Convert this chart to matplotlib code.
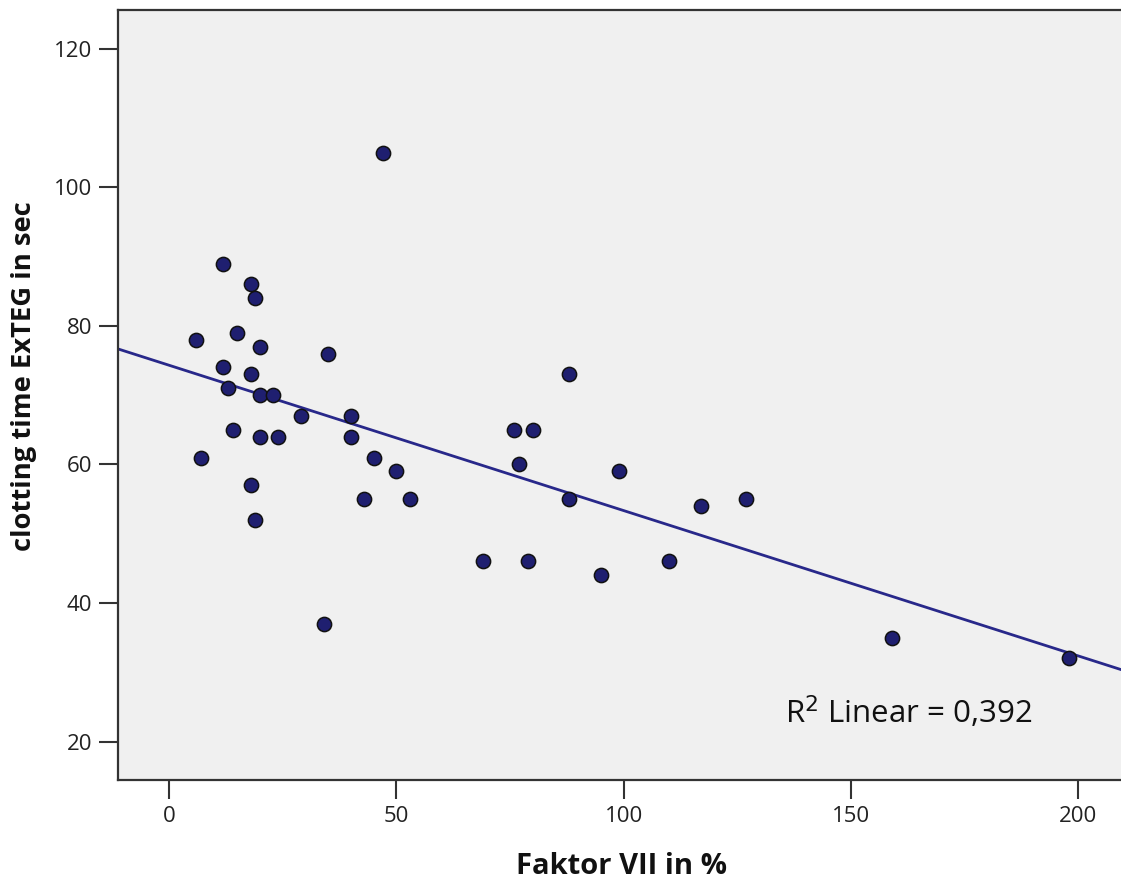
import numpy as np
import matplotlib
matplotlib.use("Agg")
import matplotlib.pyplot as plt

# Factor VII activity (%) and ExTEG clotting time (s)
faktor_vii = [6, 7, 12, 12, 13, 14, 15, 18, 19, 18, 18, 19, 20, 20, 20, 23, 24,
              29, 34, 35, 40, 40, 43, 45, 47, 50, 53, 69, 76, 77, 79, 80, 88, 88,
              95, 99, 110, 117, 127, 159, 198]
clotting_time = [78, 61, 89, 74, 71, 65, 79, 86, 84, 73, 57, 52, 77, 70, 64, 70, 64,
                 67, 37, 76, 67, 64, 55, 61, 105, 59, 55, 46, 65, 60, 46, 65, 73, 55,
                 44, 59, 46, 54, 55, 35, 32]
x_ticks = [0, 50, 100, 150, 200]
y_ticks = [20, 40, 60, 80, 100, 120]
r2_label = "R$^2$ Linear = 0,392"

W, H = 1121, 883
fig = plt.figure(figsize=(W / 100, H / 100), dpi=100)
ax = fig.add_axes([118 / W, (H - 780) / H, 1 - 118 / W, (780 - 10) / H])

font = "Open Sans"
navy = "#1f1f70"
spine_col = "#333333"

ax.set_facecolor("#f0f0f0")
ax.set_xlim(-11.2, 209.4)
ax.set_ylim(14.45, 125.6)

x = np.asarray(faktor_vii, dtype=float)
y = np.asarray(clotting_time, dtype=float)
slope, intercept = np.polyfit(x, y, 1)
xl = np.array(ax.get_xlim())
ax.plot(xl, intercept + slope * xl, color="#28288a", lw=2.0, zorder=2)

ax.scatter(x, y, s=105, c=navy, edgecolors="#111111", linewidths=1.1, zorder=3)

ax.spines["right"].set_visible(False)
for side in ("left", "bottom", "top"):
    ax.spines[side].set_color(spine_col)
    ax.spines[side].set_linewidth(1.6)

ax.set_xticks(x_ticks)
ax.set_yticks(y_ticks)
ax.tick_params(axis="both", direction="out", length=13.5, width=1.5,
               color=spine_col, labelsize=16, labelcolor="#222222", pad=5)
for lab in ax.get_xticklabels() + ax.get_yticklabels():
    lab.set_fontfamily(font)

ax.text(135.5, 22.6, r2_label, fontsize=22.5, family=font, color="#111111",
        ha="left", va="baseline")

fig.text(622 / W, 1 - 867 / H, "Faktor VII in %", fontsize=21, fontweight="bold",
         family=font, color="#111111", ha="center", va="center")
fig.text(24 / W, 1 - 376 / H, "clotting time ExTEG in sec", fontsize=19.7,
         fontweight="bold", family=font, color="#111111", ha="center",
         va="center", rotation=90)

fig.savefig("out.png", dpi=100, facecolor="white")
